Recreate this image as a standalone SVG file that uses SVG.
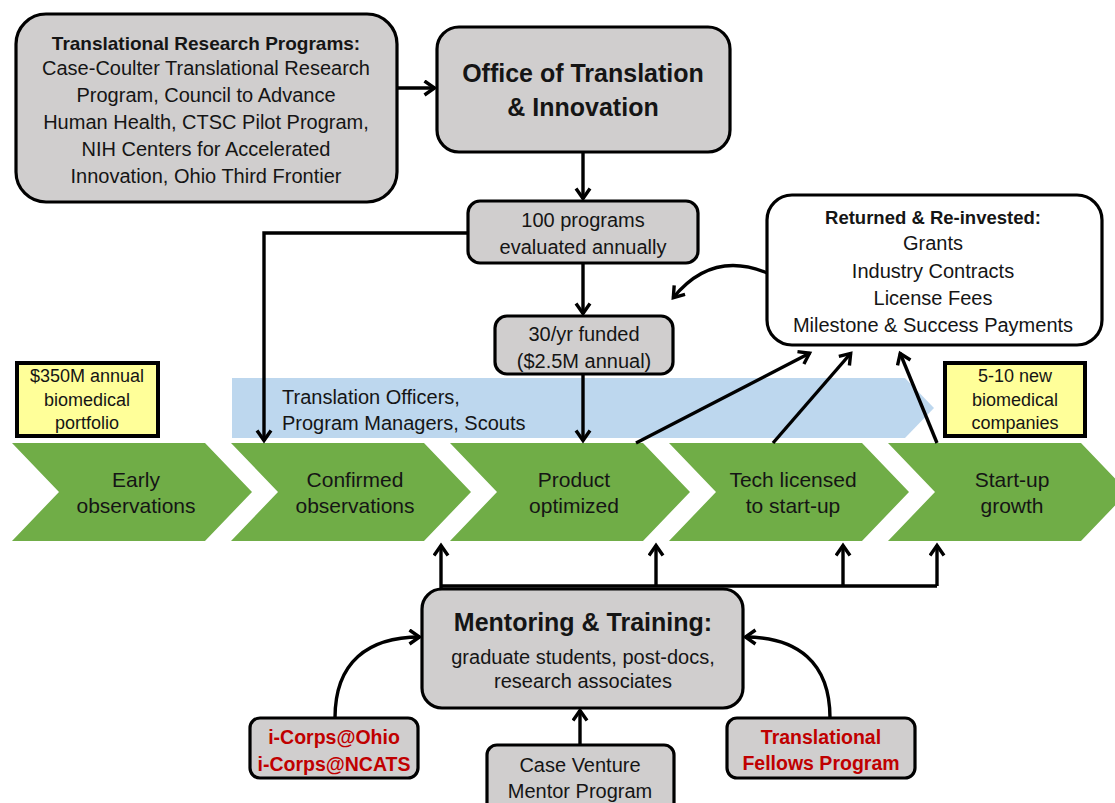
<svg xmlns="http://www.w3.org/2000/svg" width="1115" height="803" viewBox="0 0 1115 803">
<style>
text{font-family:"Liberation Sans",Arial,sans-serif;fill:#151515;text-anchor:middle;font-size:20px}
.b{font-weight:bold}
.red{fill:#C00000;font-weight:bold;font-size:19.5px}
.box{fill:#D0CECE;stroke:#000;stroke-width:3.2}
.wbox{fill:#fff;stroke:#000;stroke-width:3.2}
.ybox{fill:#FFFF99;stroke:#000;stroke-width:4}
.chev{fill:#70AD47}
.ct{font-size:21px}
.yt{font-size:18px}
.c{fill:none;stroke:#000;stroke-width:3.4}
.ca{fill:none;stroke:#000;stroke-width:3.4;marker-end:url(#ah)}
</style>
<defs>
<marker id="ah" markerWidth="18" markerHeight="18" refX="12.5" refY="8.5" orient="auto" markerUnits="userSpaceOnUse">
<path d="M2,1.5 L12,8.5 L2,15.5" fill="none" stroke="#000" stroke-width="3.4"/>
</marker>
</defs>
<rect width="1115" height="803" fill="#fff"/>

<g id="band">
<polygon points="232,378 905,378 934,408 905,438 232,438" fill="#BDD7EE"/>
<text x="282" y="404" style="text-anchor:start">Translation Officers,</text>
<text x="282" y="430" style="text-anchor:start">Program Managers, Scouts</text>
</g>

<g id="chevrons">
<g id="chev1"><polygon class="chev" points="12,443 205,443 252,492 205,541 12,541 59,492"/>
<text class="ct" x="136" y="487">Early</text><text class="ct" x="136" y="513">observations</text></g>
<g id="chev2"><polygon class="chev" points="231,443 424,443 471,492 424,541 231,541 278,492"/>
<text class="ct" x="355" y="487">Confirmed</text><text class="ct" x="355" y="513">observations</text></g>
<g id="chev3"><polygon class="chev" points="450,443 643,443 690,492 643,541 450,541 497,492"/>
<text class="ct" x="574" y="487">Product</text><text class="ct" x="574" y="513">optimized</text></g>
<g id="chev4"><polygon class="chev" points="669,443 862,443 909,492 862,541 669,541 716,492"/>
<text class="ct" x="793" y="487">Tech licensed</text><text class="ct" x="793" y="513">to start-up</text></g>
<g id="chev5"><polygon class="chev" points="888,443 1081,443 1128,492 1081,541 888,541 935,492"/>
<text class="ct" x="1012" y="487">Start-up</text><text class="ct" x="1012" y="513">growth</text></g>
</g>

<g id="connectors">
<path class="ca" d="M397,88 L435,88"/>
<path class="ca" d="M583,152 L583,199"/>
<path class="ca" d="M583,263 L583,314"/>
<path class="ca" d="M583,374 L583,441"/>
<path class="ca" d="M468,233 L264,233 L264,441"/>
<path class="ca" d="M767,273 Q712,250 673,298"/>
<path class="ca" d="M636,443 L810,353"/>
<path class="ca" d="M773,443 L851,353"/>
<path class="ca" d="M937,443 L900,353"/>
<path class="c" d="M441,586 L937,586"/>
<path class="ca" d="M441,588 L441,545"/>
<path class="ca" d="M656,586 L656,545"/>
<path class="ca" d="M843,586 L843,545"/>
<path class="ca" d="M937,586 L937,545"/>
<path class="ca" d="M580,745 L580,710"/>
<path class="ca" d="M335,718 C335,662 368,637 420,637"/>
<path class="ca" d="M830,718 C830,662 797,637 745,637"/>
</g>

<g id="programs">
<rect class="box" x="16" y="14" width="381" height="188" rx="30"/>
<text class="b" x="206" y="50" style="font-size:19px">Translational Research Programs:</text>
<text x="206" y="75">Case-Coulter Translational Research</text>
<text x="206" y="102">Program, Council to Advance</text>
<text x="206" y="129">Human Health, CTSC Pilot Program,</text>
<text x="206" y="156">NIH Centers for Accelerated</text>
<text x="206" y="183">Innovation, Ohio Third Frontier</text>
</g>

<g id="office">
<rect class="box" x="437" y="27" width="293" height="125" rx="22"/>
<text class="b" x="583" y="82" style="font-size:25px">Office of Translation</text>
<text class="b" x="583" y="116" style="font-size:25px">&amp; Innovation</text>
</g>

<g id="evaluated">
<rect class="box" x="468" y="201" width="230" height="62" rx="12"/>
<text x="583" y="227">100 programs</text>
<text x="583" y="254">evaluated annually</text>
</g>

<g id="funded">
<rect class="box" x="495" y="316" width="178" height="58" rx="12"/>
<text x="584" y="341">30/yr funded</text>
<text x="584" y="368">($2.5M annual)</text>
</g>

<g id="returned">
<rect class="wbox" x="767" y="195" width="335" height="150" rx="25"/>
<text class="b" x="933" y="224" style="font-size:18.5px">Returned &amp; Re-invested:</text>
<text x="933" y="250">Grants</text>
<text x="933" y="278">Industry Contracts</text>
<text x="933" y="305">License Fees</text>
<text x="933" y="332">Milestone &amp; Success Payments</text>
</g>

<g id="portfolio">
<rect class="ybox" x="17" y="363" width="141" height="73"/>
<text class="yt" x="87" y="382">$350M annual</text>
<text class="yt" x="87" y="406">biomedical</text>
<text class="yt" x="87" y="429">portfolio</text>
</g>

<g id="companies">
<rect class="ybox" x="945" y="363" width="140" height="73"/>
<text class="yt" x="1015" y="382">5-10 new</text>
<text class="yt" x="1015" y="406">biomedical</text>
<text class="yt" x="1015" y="429">companies</text>
</g>

<g id="mentoring">
<rect class="box" x="422" y="589" width="321" height="119" rx="20"/>
<text class="b" x="583" y="631" style="font-size:25px">Mentoring &amp; Training:</text>
<text x="583" y="664">graduate students, post-docs,</text>
<text x="583" y="688">research associates</text>
</g>

<g id="icorps">
<rect class="box" x="250" y="718" width="168" height="60" rx="10"/>
<text class="red" x="334" y="744">i-Corps@Ohio</text>
<text class="red" x="334" y="771">i-Corps@NCATS</text>
</g>

<g id="venture">
<rect class="box" x="487" y="745" width="187" height="70" rx="10"/>
<text x="580" y="772">Case Venture</text>
<text x="580" y="798">Mentor Program</text>
</g>

<g id="fellows">
<rect class="box" x="727" y="718" width="188" height="60" rx="10"/>
<text class="red" x="821" y="744">Translational</text>
<text class="red" x="821" y="770">Fellows Program</text>
</g>
</svg>
